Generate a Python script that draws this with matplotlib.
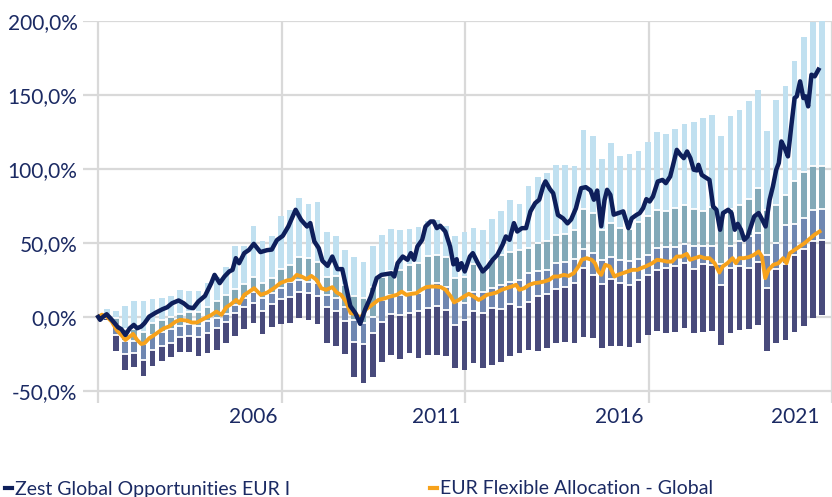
import numpy as np
import matplotlib
matplotlib.use("Agg")
from matplotlib import pyplot as plt
from matplotlib.lines import Line2D

# peer group percentiles per quarter (5 / 25 / 50 / 75 / 95), in %
p5 = [-2, -22.8, -35.6, -34.1, -40.2, -33.2, -29.8, -26.8, -23.9, -23.5,
      -26.4, -24.6, -22.3, -17.8, -12.7, -8.3, -3.8, -11.5, -6.5, -4.7,
      -3.8, -0.5, -2, -4.7, -17.4, -20, -25.3, -40.4, -44.9, -40.4,
      -30.2, -26, -28.6, -24.1, -28, -25.7, -25.7, -26.4, -34.7, -35.9,
      -31.3, -34.7, -32.5, -30.2, -26.4, -24.6, -22.3, -22.8, -21.2, -17.8,
      -16.7, -17.8, -13.3, -14, -21.2, -20, -19.6, -20.1, -17.8, -12.2,
      -9.2, -10.6, -9.9, -7.7, -10.6, -9.9, -9.2, -18.9, -10.6, -8.8,
      -8.3, -5.4, -22.8, -17.8, -15.6, -9.9, -6.1, -0.9, 1]
p25 = [-1, -12.2, -24.8, -24.4, -29.3, -22.3, -19.6, -17.4, -13.8, -12.9,
       -13.3, -10.6, -7.7, -3.2, 2.9, 6.5, 9.2, 4.3, 8.8, 12,
       13.3, 17.1, 16, 14.2, 7, 4.3, -2.5, -16.7, -18.3, -10.6,
       -3.2, 2, 1.4, 2.9, 4.3, 5.9, 7.4, 4.7, -5.4, -2,
       4.3, 2.5, 5.9, 5.2, 8.8, 7, 10.4, 14.2, 15.8, 18.7,
       20.1, 22.8, 32.9, 28.4, 22.5, 25.8, 22.7, 21.7, 25, 28.4,
       31.8, 32.9, 34.5, 36.3, 32.3, 35.9, 35.2, 21.7, 32.9, 34.1,
       32.9, 37.4, 19.4, 32.3, 35.9, 41.9, 45.8, 51, 52]
p50 = [0, -5.4, -16, -16, -18, -12, -10, -8, -6, -5,
       -6, -3, -1, 2, 8, 13, 17.1, 12.6, 16, 19.4,
       23.9, 24.6, 23.5, 22.8, 14.9, 13.1, 7, -2, -4.3, 0.2,
       11.5, 15, 14.9, 16.5, 16, 20.1, 22.8, 20.5, 10, 9.2,
       16.5, 17.1, 19.4, 21.7, 23.9, 25, 29.5, 31.3, 31.5, 36.3,
       37, 39, 45.8, 43.5, 38.5, 40.3, 38.5, 38, 39.4, 41.9,
       46.5, 47.1, 47.1, 49.5, 47.6, 47.6, 48, 36, 48, 51,
       54.4, 56.6, 42, 49.8, 62.2, 62.9, 66.8, 72.4, 73]
p75 = [1, -0.9, -8, -8, -10, -4, -2, 0, 2, 3,
       3, 7, 11, 15, 19, 22, 26.8, 23.2, 26.2, 32.3,
       35.2, 40.4, 39.7, 36.8, 26.8, 27.7, 21.7, 13.8, 12.6, 20.5,
       27.3, 31, 31.8, 35.2, 36.3, 41.3, 41.9, 40.8, 26.2, 27.3,
       35.9, 32.9, 38.6, 41.9, 44.2, 44.9, 46.5, 49.8, 51, 55.5,
       56.2, 58.6, 72.8, 70.4, 59, 63.8, 60.4, 59.5, 64.2, 68.3,
       72.4, 71.9, 73.5, 75.8, 72.8, 71.3, 74.2, 66, 72.8, 75.8,
       79.6, 87, 72, 75.8, 82.5, 91.6, 97.7, 101.7, 102]
p95 = [5.4, 4.1, 7.4, 10.8, 10.8, 12.2, 13.1, 14.2, 18.3, 17.6,
       17.6, 23.2, 27.3, 34, 47.6, 48, 61.1, 51, 54.4, 68.3,
       72.4, 80.3, 76.5, 77.6, 57.5, 54.8, 45.3, 40.4, 37.4, 48,
       55.5, 59.5, 58.9, 59.3, 60.7, 64.5, 65.6, 61.6, 54.4, 57.1,
       60.4, 58.9, 66.1, 71.9, 78.7, 76.5, 88.2, 94.3, 97.5, 102.8,
       102.8, 102.2, 126.5, 122, 106.8, 117.8, 108.5, 110.3, 111.8, 118,
       125.2, 123.8, 127.2, 130.6, 131.8, 134.5, 136.7, 122.5, 136, 140,
       145.7, 153.6, 125.8, 146.8, 156.3, 173.2, 189, 199.1, 205]

# quarterly bar dates (decimal years)
bar_dates = 2001.23 + 0.25 * np.arange(len(p95))

# Zest Global Opportunities EUR I, cumulative return in %
zest_t = [0.0, 0.05, 0.14, 0.23, 0.37, 0.54, 0.63, 0.74, 0.86, 0.97,
          1.06, 1.17, 1.26, 1.39, 1.57, 1.75, 1.88, 2.01, 2.19, 2.33,
          2.46, 2.59, 2.73, 2.91, 3.08, 3.17, 3.31, 3.44, 3.57, 3.66,
          3.75, 3.84, 3.98, 4.11, 4.24, 4.42, 4.60, 4.73, 4.87, 5.03,
          5.18, 5.38, 5.53, 5.69, 5.78, 5.89, 6.01, 6.11, 6.25, 6.38,
          6.52, 6.65, 6.74, 6.87, 7.01, 7.14, 7.27, 7.43, 7.59, 7.72,
          7.85, 7.99, 8.07, 8.16, 8.30, 8.43, 8.52, 8.61, 8.70, 8.83,
          8.92, 9.06, 9.14, 9.23, 9.32, 9.46, 9.59, 9.68, 9.77, 9.81,
          9.90, 9.99, 10.13, 10.21, 10.35, 10.48, 10.62, 10.75, 10.88, 11.02,
          11.11, 11.21, 11.33, 11.42, 11.55, 11.66, 11.78, 11.91, 12.02, 12.13,
          12.19, 12.31, 12.40, 12.53, 12.67, 12.79, 12.89, 13.02, 13.16, 13.29,
          13.42, 13.51, 13.60, 13.71, 13.80, 13.87, 13.96, 14.05, 14.18, 14.31,
          14.45, 14.54, 14.67, 14.76, 14.85, 14.94, 15.03, 15.12, 15.25, 15.38,
          15.47, 15.59, 15.68, 15.77, 15.87, 15.96, 16.05, 16.14, 16.23, 16.32,
          16.36, 16.45, 16.54, 16.66, 16.76, 16.85, 16.95, 17.03, 17.17, 17.26,
          17.35, 17.43, 17.52, 17.61, 17.70, 17.79, 17.88, 18.00, 18.10, 18.19,
          18.30, 18.39, 18.48, 18.55, 18.62, 18.71, 18.80, 18.89, 18.98, 19.04,
          19.13, 19.22, 19.28, 19.35, 19.44, 19.53, 19.63]
zest_v = [0.0, -2, 0.2, 1.8, -2, -7, -8.3, -12.2, -7.7, -5.4,
          -7.7, -6.5, -4.3, 0.2, 2.9, 5.2, 6.5, 9.2, 11.1, 9.2,
          6.5, 5.9, 10.4, 14.2, 22.8, 28.4, 22.8, 27.3, 30.7, 31.8,
          39.7, 36.3, 43.1, 45.3, 49.4, 43.8, 45.1, 45.5, 51.9, 54.8,
          61.1, 72.4, 65.6, 61.1, 63.4, 51, 46.5, 37.9, 34.5, 40.8,
          32.3, 32.3, 22.3, 7.4, 2.5, -4.7, 4.7, 13.8, 26.2, 28.4,
          28.9, 29.5, 27.3, 36.3, 40.8, 38.6, 43.1, 38.6, 47.6, 52.1,
          61.1, 64.5, 64.5, 60, 61.6, 57.7, 47.6, 35.5, 39, 31.8,
          36.3, 30.7, 40.8, 43.1, 36.3, 30.7, 34.1, 38.6, 42, 48.7,
          54.4, 52.1, 63.4, 57.7, 60, 60, 71.3, 76.9, 79.2, 88.6,
          91.6, 86.4, 83.6, 68.9, 66.6, 63.2, 65.9, 73.4, 87, 87.7,
          85.4, 79.2, 85.4, 61.3, 79, 85.9, 82.5, 69.1, 70.2, 71.3,
          60, 66.6, 68.9, 70.2, 73.5, 79.6, 78, 81.4, 91.5, 92.6,
          90.4, 94.9, 103.9, 112.9, 109.6, 107.3, 111.8, 107.3, 99.5, 99,
          102.8, 96, 94.5, 92.6, 74.6, 72.4, 58.9, 70.2, 72.4, 70.2,
          58.9, 62.9, 58.9, 52.1, 54.4, 61.1, 67.9, 70.2, 65.6, 61.1,
          79.2, 88.2, 99.5, 104, 118.6, 114.1, 108.5, 128.8, 147.9, 149.1,
          159.2, 147.9, 149.1, 142.3, 163.7, 162.6, 167.1]

# EUR Flexible Allocation - Global, cumulative return in %
flex_t = [0.0, 0.10, 0.23, 0.37, 0.50, 0.63, 0.74, 0.86, 0.95, 1.06,
          1.17, 1.26, 1.39, 1.53, 1.66, 1.79, 1.93, 2.11, 2.24, 2.42,
          2.55, 2.69, 2.82, 2.96, 3.09, 3.22, 3.36, 3.49, 3.63, 3.76,
          3.85, 3.98, 4.12, 4.25, 4.43, 4.61, 4.79, 4.96, 5.14, 5.28,
          5.41, 5.54, 5.68, 5.81, 5.95, 6.08, 6.21, 6.38, 6.50, 6.62,
          6.75, 6.88, 7.02, 7.15, 7.28, 7.46, 7.64, 7.82, 7.96, 8.14,
          8.27, 8.40, 8.54, 8.67, 8.80, 8.94, 9.07, 9.21, 9.34, 9.47,
          9.61, 9.70, 9.83, 9.97, 10.10, 10.23, 10.37, 10.46, 10.59, 10.72,
          10.86, 10.99, 11.13, 11.26, 11.39, 11.48, 11.61, 11.75, 11.88, 12.02,
          12.15, 12.29, 12.42, 12.55, 12.69, 12.82, 12.96, 13.09, 13.18, 13.31,
          13.45, 13.54, 13.63, 13.71, 13.82, 13.94, 14.07, 14.16, 14.29, 14.43,
          14.56, 14.70, 14.79, 14.92, 15.10, 15.23, 15.37, 15.50, 15.64, 15.77,
          15.90, 16.04, 16.13, 16.26, 16.40, 16.53, 16.66, 16.80, 16.93, 17.02,
          17.15, 17.29, 17.38, 17.47, 17.60, 17.73, 17.87, 18.00, 18.09, 18.18,
          18.27, 18.40, 18.54, 18.67, 18.76, 18.85, 18.98, 19.12, 19.25, 19.38,
          19.52, 19.66]
flex_v = [0.0, 1.5, 0.2, -3.2, -8.8, -12.2, -15.6, -13.3, -11.5, -15.6,
          -18.3, -17.8, -14.4, -12.2, -9.9, -7.7, -6.5, -3.2, -2, -2.5,
          -3.8, -3.8, -2, -0.2, 1.4, 3.6, 1.4, 6.5, 8.8, 11.5,
          9.2, 14.9, 17.1, 19.4, 14.9, 16.5, 19.4, 22.8, 24.6, 25,
          28.4, 27.3, 25.5, 27.7, 25, 19.4, 18.3, 20.1, 16.5, 14.9,
          10.4, 2.5, 2, -0.9, 4.7, 8.1, 11.5, 12.6, 13.8, 14.9,
          17.1, 14.9, 15.6, 16, 18.3, 20.1, 20.5, 20.5, 20.1, 18.3,
          13.8, 9.8, 11.5, 13.8, 15.6, 13.8, 11.5, 12.6, 14.9, 15.6,
          16.5, 18.3, 19.4, 20.5, 21.7, 18.3, 19.4, 21.7, 22.8, 23.2,
          23.9, 25, 27.3, 27.3, 28.4, 27.7, 29.5, 34.1, 38.6, 39.7,
          38.6, 36.3, 30.7, 28.4, 35.2, 34.1, 27.3, 28.4, 29.5, 30.7,
          31.8, 31.8, 32.9, 34.1, 36.3, 38.6, 38.1, 37.4, 37.4, 40.8,
          40.8, 42.6, 38.6, 39.7, 40.8, 39.7, 39.7, 36.3, 30, 34.1,
          36.3, 39.7, 36.3, 39.7, 39.7, 40.4, 41.9, 44.2, 40.8, 26.2,
          31.8, 35.2, 36.3, 39.7, 36.3, 43.1, 45.3, 47.6, 49.8, 52.5,
          55.5, 57.7]

y_ticks = [-50, 0, 50, 100, 150, 200]
x_grid_years = [2001, 2006, 2011, 2016, 2021]
x_labels = ["2006", "2011", "2016", "2021"]
x_label_pos = [2005.23, 2010.22, 2015.19, 2019.99]

text_col = "#1b2a63"
plt.rcParams['font.family'] = ['Lato', 'DejaVu Sans']

fig = plt.figure(figsize=(8.32, 4.97), dpi=100)
ax = fig.add_axes([83 / 832, 1 - 403 / 497, 1 - 83 / 832, (403 - 21) / 497])

p5 = np.array(p5)
p25 = np.array(p25)
p50 = np.array(p50)
p75 = np.array(p75)
p95 = np.array(p95)
w = 0.155

ax.bar(bar_dates, p25 - p5, bottom=p5, width=w, color="#484a7b", zorder=2)
ax.bar(bar_dates, p50 - p25, bottom=p25, width=w, color="#6f87b1", zorder=2)
ax.bar(bar_dates, p75 - p50, bottom=p50, width=w, color="#82a9b8", zorder=2)
ax.bar(bar_dates, p95 - p75, bottom=p75, width=w, color="#c0e0f0", zorder=2)
for lvl in (p25, p50, p75):
    ax.hlines(lvl, bar_dates - w / 2, bar_dates + w / 2, color="white", lw=1.3, zorder=3)

zest_x = 2001 + np.array(zest_t)
flex_x = 2001 + np.array(flex_t)
l1, = ax.plot(zest_x, zest_v, color="#0e1f5b", lw=3.2, zorder=5,
              solid_joinstyle="round", label="Zest Global Opportunities EUR I")
l2, = ax.plot(flex_x, flex_v, color="#f7a21b", lw=2.8, zorder=4,
              solid_joinstyle="round", label="EUR Flexible Allocation - Global")

ax.set_ylim(-58.2, 200)
ax.set_xlim(2001 - 15.5 / 37.33, 2001 + (832 - 98.5) / 37.33)
ax.set_yticks(y_ticks)
ax.set_yticklabels([f"{v:.1f}".replace(".", ",") + "%" for v in y_ticks])
ax.set_xticks(x_grid_years)
ax.set_xticklabels([])
ax.set_xticks(x_label_pos, minor=True)
ax.set_xticklabels(x_labels, minor=True)
ax.tick_params(axis="both", which="both", length=0, colors=text_col, labelsize=15)
ax.tick_params(axis="y", pad=4)
ax.tick_params(axis="x", which="minor", pad=3)
ax.grid(True, which="major", color="#d9d9d9", lw=1.6)
ax.set_axisbelow(True)
for s in ax.spines.values():
    s.set_visible(False)

h1 = Line2D([], [], color=l1.get_color(), lw=3)
h2 = Line2D([], [], color=l2.get_color(), lw=3)
for h, lab, xpos in [(h1, l1.get_label(), 5), (h2, l2.get_label(), 430)]:
    fig.legend(handles=[h], labels=[lab], loc="center left",
               bbox_to_anchor=(xpos / 832, 1 - 489 / 497), frameon=False,
               handlelength=0.38, handletextpad=0.12, borderpad=0,
               borderaxespad=0, fontsize=14, labelcolor=text_col)

plt.savefig("out.png", dpi=100)
plt.close()
